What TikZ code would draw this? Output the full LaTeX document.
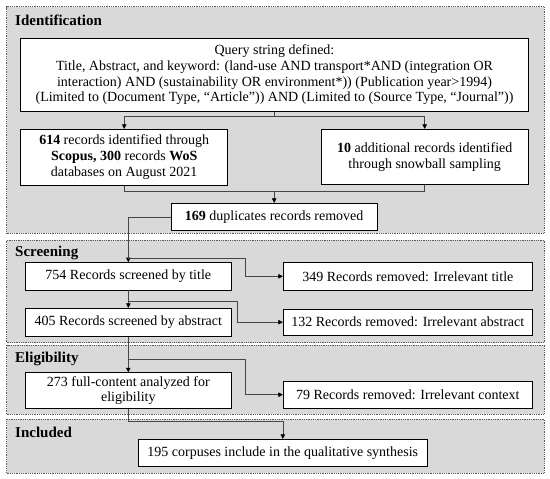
\documentclass[tikz,border=0pt]{standalone}
\usepackage{fontspec}
\setmainfont{Liberation Serif}
\usetikzlibrary{arrows.meta,calc}
\definecolor{panelfill}{RGB}{217,217,217}
\definecolor{paneledge}{RGB}{90,90,90}
\definecolor{linkcol}{RGB}{70,70,70}
\begin{document}
\begin{tikzpicture}[x=1pt,y=-1pt,
  panel/.style={draw=paneledge,fill=panelfill,line width=0.9pt,dash pattern=on 0.9pt off 0.9pt,inner sep=0pt},
  phase/.style={anchor=west,inner sep=0pt,font=\fontsize{15}{16}\selectfont\bfseries},
  stagebox/.style={draw=black,fill=white,line width=0.9pt,inner sep=0pt,align=center,font=\fontsize{14}{15.7}\selectfont},
  link/.style={draw=linkcol,line width=0.6pt},
  arr/.style={link,-{Triangle[length=4.5pt,width=4.5pt,color=black]}}]
\useasboundingbox (0,0) rectangle (550,479);
% panels
\node[panel,minimum width=537.8,minimum height=226.6] (pident) at (275.5,120) {};
\node[panel,minimum width=537.8,minimum height=102.7] (pscreen) at (275.5,291.35) {};
\node[panel,minimum width=537.8,minimum height=69.3] (pelig) at (275.5,379.65) {};
\node[panel,minimum width=537.8,minimum height=54.3] (pincl) at (275.5,446.15) {};
\node[phase] (lident) at (15,20) {Identification};
\node[phase] (lscreen) at (15,253) {Screening};
\node[phase] (lelig) at (15,359.3) {Eligibility};
\node[phase] (lincl) at (15,432.7) {Included};
% boxes
\node[stagebox,minimum width=507.6,minimum height=73.4] (query) at (274.5,75) {Query string defined:\\
Title, Abstract, and keyword: (land-use AND transport*AND (integration OR\\
interaction) AND (sustainability OR environment*)) (Publication year>1994)\\
(Limited to (Document Type, “Article”)) AND (Limited to (Source Type, “Journal”))};
\node[stagebox,minimum width=207,minimum height=55.7] (src1) at (124.2,157.2) {\textbf{614} records identified through\\ \textbf{Scopus, 300} records \textbf{WoS}\\ databases on August 2021};
\node[stagebox,minimum width=207.3,minimum height=55] (src2) at (424.7,156.8) {\textbf{10} additional records identified\\ through snowball sampling};
\node[stagebox,minimum width=206.3,minimum height=27.4] (dup) at (274.2,217) {\textbf{169} duplicates records removed};
\node[stagebox,minimum width=206.7,minimum height=27.3] (title) at (128.3,276.3) {754 Records screened by title};
\node[stagebox,minimum width=249,minimum height=27.3] (rtitle) at (407.8,276.3) {349 Records removed: Irrelevant title};
\node[stagebox,minimum width=206.7,minimum height=27.7] (abs) at (128.3,322.2) {405 Records screened by abstract};
\node[stagebox,minimum width=249,minimum height=25.7] (rabs) at (407.8,322.2) {132 Records removed: Irrelevant abstract};
\node[stagebox,minimum width=206.7,minimum height=35.6] (full) at (128.3,390.5) {273 full-content analyzed for\\ eligibility};
\node[stagebox,minimum width=249,minimum height=27.3] (rctx) at (407.8,394.7) {79 Records removed: Irrelevant context};
\node[stagebox,minimum width=289,minimum height=27.4] (incl) at (282.8,453) {195 corpuses include in the qualitative synthesis};
% connectors
\coordinate (qsplit) at (274.5,116.7);
\draw[link] (query.south) -- (qsplit);
\draw[arr] (qsplit) -| (src1.north);
\draw[arr] (qsplit) -| (src2.north);
\coordinate (merge) at (274.2,191.7);
\draw[link] (src1.south) |- (merge);
\draw[link] (src2.south) |- (merge);
\draw[arr] (merge) -- (dup.north);
\draw[arr] (dup.west) -| (title.north);
\coordinate (b1) at (128.3,258.3);
\coordinate (c1) at (245.7,258.3);
\draw[arr] (b1) -- (c1) |- (rtitle.west);
\draw[arr] (title.south) -- (abs.north);
\coordinate (b2) at (128.3,301.7);
\coordinate (c2) at (237.7,301.7);
\draw[arr] (b2) -- (c2) |- (rabs.west);
\draw[arr] (abs.south) -- (full.north);
\coordinate (b3) at (128.3,359.3);
\coordinate (c3) at (245.7,359.3);
\draw[arr] (b3) -- (c3) |- (rctx.west);
\coordinate (b4) at (128.3,421.7);
\draw[link] (full.south) -- (b4);
\draw[arr] (b4) -| (incl.north);
\end{tikzpicture}
\end{document}
